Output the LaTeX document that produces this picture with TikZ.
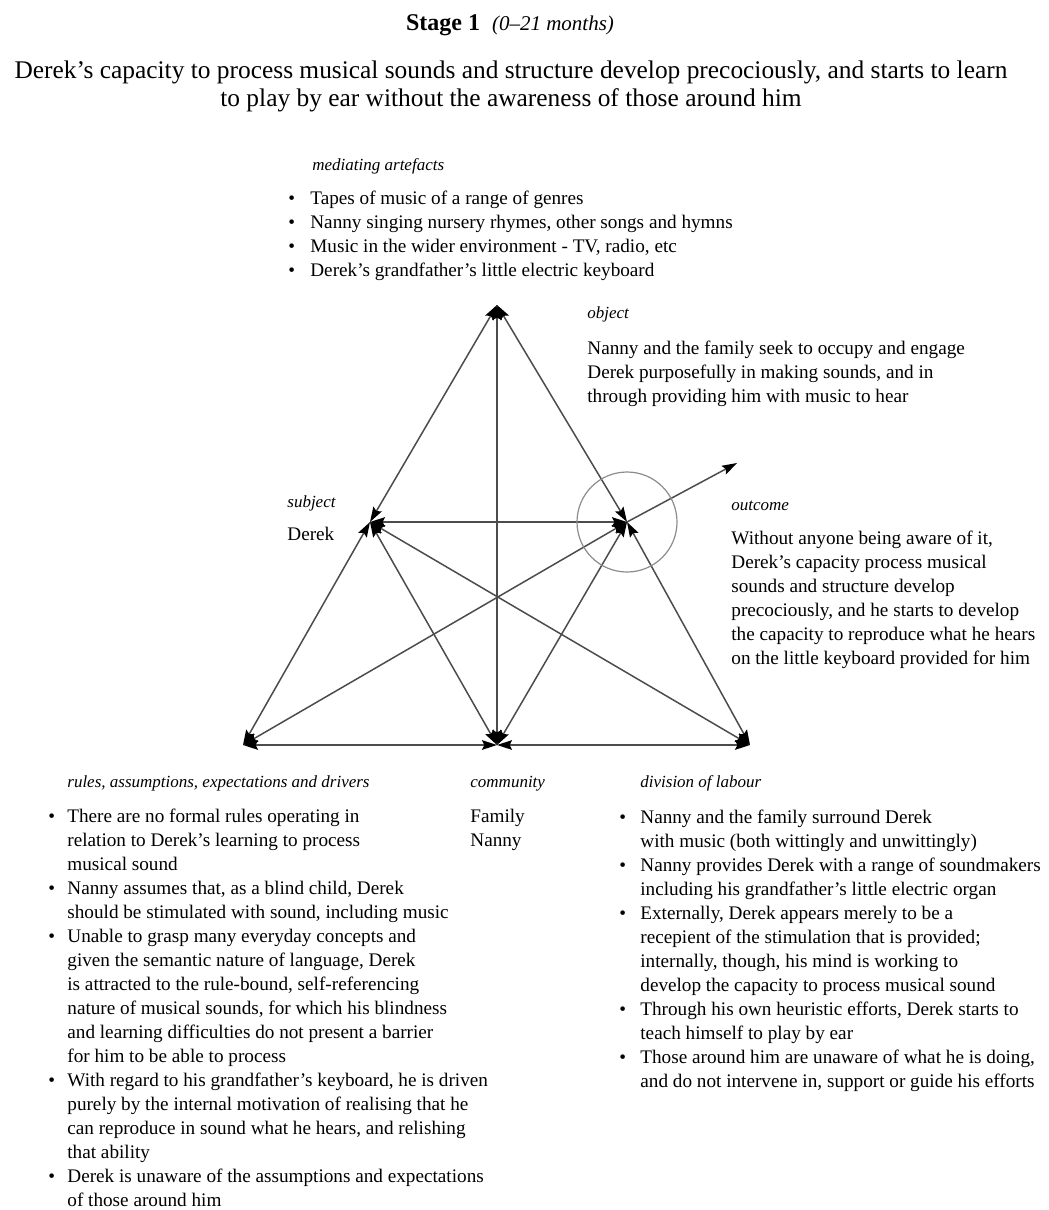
\documentclass[tikz,border=0pt]{standalone}
\usepackage{fontspec}
\setmainfont{Liberation Serif}
\usetikzlibrary{arrows.meta}

\tikzset{
  tip/.style={},
  link/.style={{Stealth[length=7.5pt,width=4.8pt,inset=1.2pt,color=black]}-{Stealth[length=7.5pt,width=4.8pt,inset=1.2pt,color=black]},
    draw=black!70, line width=0.75pt},
  head/.style={anchor=base west, inner sep=0pt, font=\fontsize{8.5}{10}\selectfont\itshape},
  body/.style={anchor=base west, inner sep=0pt, font=\fontsize{9.6}{12}\selectfont},
}
\newcommand{\bl}{\textbullet}

\begin{document}
\begin{tikzpicture}[x=0.5pt,y=-0.5pt]
\useasboundingbox (0,0) rectangle (1049,1210);
%
% title
\node[anchor=base, inner sep=0pt] (title) at (510,30)
  {\fontsize{12}{14}\selectfont\textbf{Stage 1}\ \ {\fontsize{10.5}{12}\selectfont\itshape(0--21 months)}};
\node[anchor=base, inner sep=0pt, font=\fontsize{12.7}{14}\selectfont] (sub) at (511,78)
  {\begin{tabular}[t]{@{}c@{}}
   Derek's capacity to process musical sounds and structure develop precociously, and starts to learn\\
   to play by ear without the awareness of those around him
   \end{tabular}};
%
% corners of the triangle
\coordinate (art)  at (497,305);
\coordinate (subj) at (370,522);
\coordinate (obj)  at (627,522);
\coordinate (rule) at (243,745);
\coordinate (comm) at (497,745);
\coordinate (div)  at (750,745);
\coordinate (outc) at (737,463);
%
\draw[link] (art) -- (subj);
\draw[link] (art) -- (obj);
\draw[link] (art) -- (comm);
\draw[link] (subj) -- (obj);
\draw[link] (subj) -- (rule);
\draw[link] (subj) -- (comm);
\draw[link] (subj) -- (div);
\draw[link] (obj) -- (rule);
\draw[link] (obj) -- (comm);
\draw[link] (obj) -- (div);
\draw[link] (rule) -- (comm);
\draw[link] (comm) -- (div);
\draw[draw=black!70, line width=0.75pt, -{Stealth[length=7.5pt,width=4.8pt,inset=1.2pt,color=black]}] (obj) -- (outc);
\draw[black!45, line width=0.6pt] (obj) circle [radius=25pt];
%
% mediating artefacts
\node[head] (arthead) at (312,170) {mediating artefacts};
\node[body] (arttext) at (288,204)
  {\begin{tabular}[t]{@{}p{11pt}@{}l@{}}
   \bl & Tapes of music of a range of genres\\
   \bl & Nanny singing nursery rhymes, other songs and hymns\\
   \bl & Music in the wider environment - TV, radio, etc\\
   \bl & Derek's grandfather's little electric keyboard
   \end{tabular}};
%
% object
\node[head] (objhead) at (587,318) {object};
\node[body] (objtext) at (587,354)
  {\begin{tabular}[t]{@{}l@{}}
   Nanny and the family seek to occupy and engage\\
   Derek purposefully in making sounds, and in\\
   through providing him with music to hear
   \end{tabular}};
%
% subject
\node[head] (subjhead) at (287,507) {subject};
\node[body] (subjtext) at (287,540) {Derek};
%
% outcome
\node[head] (outhead) at (731,510) {outcome};
\node[body] (outtext) at (731,544)
  {\begin{tabular}[t]{@{}l@{}}
   Without anyone being aware of it,\\
   Derek's capacity process musical\\
   sounds and structure develop\\
   precociously, and he starts to develop\\
   the capacity to reproduce what he hears\\
   on the little keyboard provided for him
   \end{tabular}};
%
% rules
\node[head] (rulehead) at (67,787) {rules, assumptions, expectations and drivers};
\node[body] (ruletext) at (48,822)
  {\begin{tabular}[t]{@{}p{9.5pt}@{}l@{}}
   \bl & There are no formal rules operating in\\
       & relation to Derek's learning to process\\
       & musical sound\\
   \bl & Nanny assumes that, as a blind child, Derek\\
       & should be stimulated with sound, including music\\
   \bl & Unable to grasp many everyday concepts and\\
       & given the semantic nature of language, Derek\\
       & is attracted to the rule-bound, self-referencing\\
       & nature of musical sounds, for which his blindness\\
       & and learning difficulties do not present a barrier\\
       & for him to be able to process\\
   \bl & With regard to his grandfather's keyboard, he is driven\\
       & purely by the internal motivation of realising that he\\
       & can reproduce in sound what he hears, and relishing\\
       & that ability\\
   \bl & Derek is unaware of the assumptions and expectations\\
       & of those around him
   \end{tabular}};
%
% community
\node[head] (commhead) at (470,787) {community};
\node[body] (commtext) at (470,822)
  {\begin{tabular}[t]{@{}l@{}}
   Family\\
   Nanny
   \end{tabular}};
%
% division of labour
\node[head] (divhead) at (640,787) {division of labour};
\node[body] (divtext) at (619,823)
  {\begin{tabular}[t]{@{}p{10.5pt}@{}l@{}}
   \bl & Nanny and the family surround Derek\\
       & with music (both wittingly and unwittingly)\\
   \bl & Nanny provides Derek with a range of soundmakers\\
       & including his grandfather's little electric organ\\
   \bl & Externally, Derek appears merely to be a\\
       & recepient of the stimulation that is provided;\\
       & internally, though, his mind is working to\\
       & develop the capacity to process musical sound\\
   \bl & Through his own heuristic efforts, Derek starts to\\
       & teach himself to play by ear\\
   \bl & Those around him are unaware of what he is doing,\\
       & and do not intervene in, support or guide his efforts
   \end{tabular}};
%
\end{tikzpicture}
\end{document}
